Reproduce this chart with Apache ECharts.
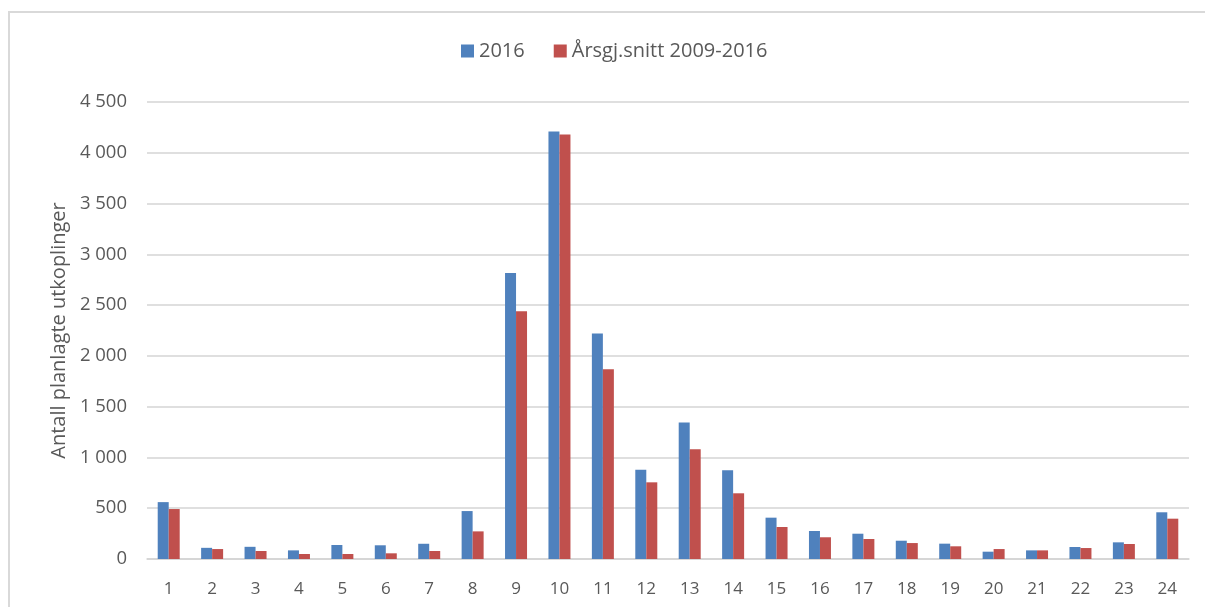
<!DOCTYPE html>
<html>
<head>
<meta charset="utf-8">
<script src="https://cdn.jsdelivr.net/npm/echarts@6/dist/echarts.min.js"></script>
<style>
html,body{margin:0;padding:0;background:#fff;}
#chart{width:1205px;height:607px;}
</style>
</head>
<body>
<div id="chart"></div>
<script>
const categories = ['1','2','3','4','5','6','7','8','9','10','11','12','13','14','15','16','17','18','19','20','21','22','23','24'];
const series2016 = [560, 110, 120, 85, 138, 135, 150, 472, 2815, 4210, 2220, 879, 1343, 873, 407, 276, 249, 180, 151, 72, 85, 118, 164, 460];
const seriesAvg = [492, 98, 79, 49, 49, 56, 79, 272, 2440, 4180, 1868, 755, 1080, 647, 315, 214, 197, 157, 125, 98, 85, 108, 148, 397];
const seriesNames = ['2016', 'Årsgj.snitt 2009-2016'];
const yAxisName = 'Antall planlagte utkoplinger';

const FONT = '"Open Sans", "Liberation Sans", sans-serif';
const TXT = '#595959';
const chart = echarts.init(document.getElementById('chart'), null, {renderer: 'canvas'});
chart.setOption({
  animation: false,
  backgroundColor: '#ffffff',
  textStyle: {fontFamily: FONT, color: TXT},
  graphic: [{
    type: 'rect',
    shape: {x: 9, y: 12, width: 1220, height: 620},
    style: {fill: 'none', stroke: '#d9d9d9', lineWidth: 2},
    silent: true
  }],
  legend: {
    data: seriesNames,
    left: 456,
    top: 36,
    itemWidth: 13,
    itemHeight: 13,
    itemGap: 29,
    icon: 'rect',
    textStyle: {fontFamily: FONT, fontSize: 20, color: TXT}
  },
  grid: {left: 147, right: 16, top: 102, bottom: 48, containLabel: false},
  xAxis: {
    type: 'category',
    data: categories,
    axisLine: {show: true, lineStyle: {color: '#d4d4d4', width: 1.5}},
    axisTick: {show: false},
    axisLabel: {fontFamily: FONT, fontSize: 17, color: TXT, margin: 22}
  },
  yAxis: {
    type: 'value',
    min: 0,
    max: 4500,
    interval: 500,
    name: yAxisName,
    nameLocation: 'middle',
    nameGap: 73,
    nameTextStyle: {fontFamily: FONT, fontSize: 20, color: TXT},
    axisLine: {show: false},
    axisTick: {show: false},
    splitLine: {lineStyle: {color: '#d4d4d4', width: 1.5}},
    axisLabel: {
      fontFamily: FONT, fontSize: 18.5, color: TXT, margin: 20,
      formatter: function (v) { return String(v).replace(/\B(?=(\d{3})+(?!\d))/g, ' '); }
    }
  },
  series: [
    {name: seriesNames[0], type: 'bar', data: series2016, barWidth: 11, barGap: '0%',
     itemStyle: {color: '#4F81BD'}},
    {name: seriesNames[1], type: 'bar', data: seriesAvg, barWidth: 11, barGap: '0%',
     itemStyle: {color: '#C0504D'}}
  ]
});
</script>
</body>
</html>
